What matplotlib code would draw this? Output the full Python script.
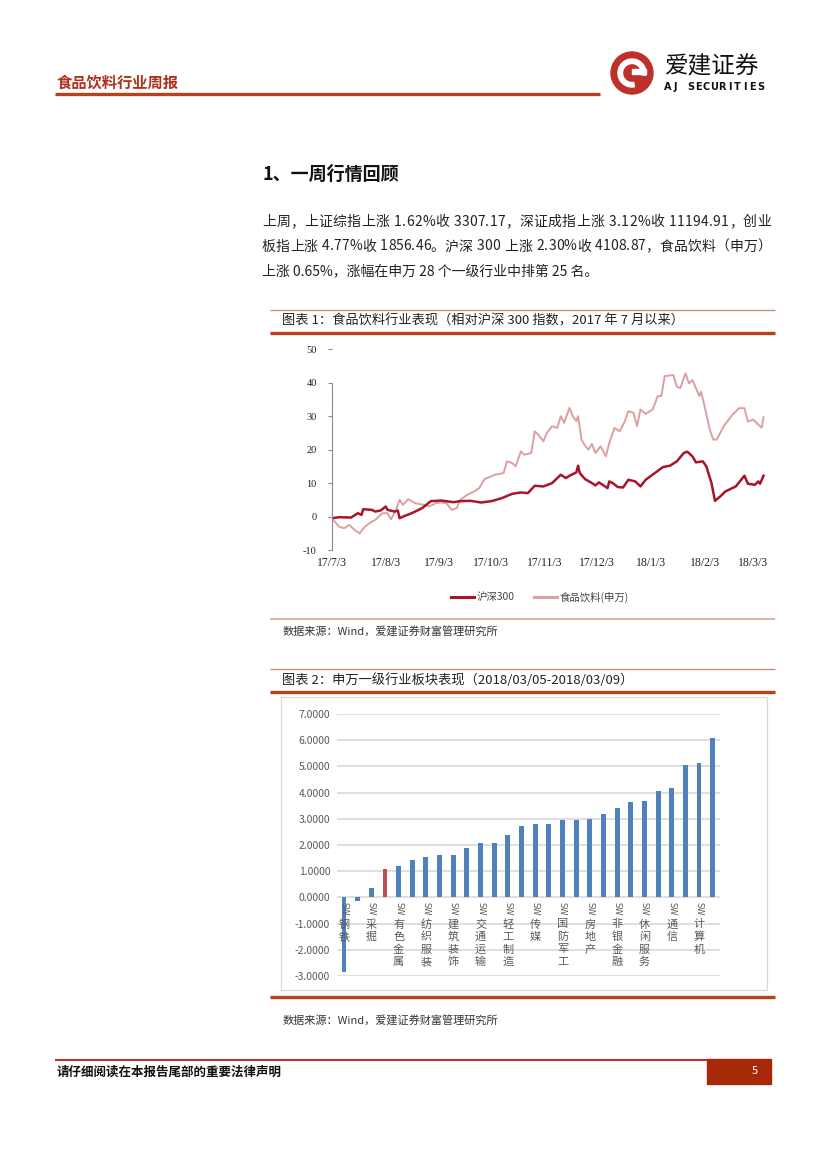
import matplotlib
matplotlib.use("Agg")
import matplotlib.pyplot as plt
import matplotlib.dates as mdates
from matplotlib.patches import Rectangle, Circle, Wedge
from matplotlib.lines import Line2D
from matplotlib.ticker import FuncFormatter
import pandas as pd

plt.rcParams['font.family'] = ['Noto Sans CJK SC', 'DejaVu Sans']
plt.rcParams['axes.unicode_minus'] = False

# ---- data: chart 1 (relative performance since 2017-07, %) ----
hs300_dates = ['2017-07-03', '2017-07-07', '2017-07-14', '2017-07-18', '2017-07-20', '2017-07-21',
               '2017-07-26', '2017-07-28', '2017-07-31', '2017-08-03', '2017-08-04', '2017-08-08',
               '2017-08-10', '2017-08-11', '2017-08-14', '2017-08-18', '2017-08-24', '2017-08-29',
               '2017-09-04', '2017-09-11', '2017-09-15', '2017-09-21', '2017-09-27', '2017-10-03',
               '2017-10-09', '2017-10-15', '2017-10-20', '2017-10-24', '2017-10-28', '2017-11-02',
               '2017-11-07', '2017-11-12', '2017-11-15', '2017-11-17', '2017-11-21', '2017-11-22',
               '2017-11-23', '2017-11-26', '2017-11-30', '2017-12-02', '2017-12-04', '2017-12-07',
               '2017-12-09', '2017-12-10', '2017-12-12', '2017-12-15', '2017-12-18', '2017-12-21',
               '2017-12-25', '2017-12-28', '2017-12-31', '2018-01-04', '2018-01-10', '2018-01-14',
               '2018-01-18', '2018-01-22', '2018-01-24', '2018-01-27', '2018-01-29', '2018-02-02',
               '2018-02-04', '2018-02-07', '2018-02-09', '2018-02-12', '2018-02-15', '2018-02-21',
               '2018-02-26', '2018-02-28', '2018-03-04', '2018-03-06', '2018-03-07', '2018-03-09']
hs300_vals = [-0.5, -0.2, -0.3, 1.0, 0.5, 2.2,
              2.0, 1.5, 1.8, 3.0, 2.0, 1.5,
              1.8, -0.5, 0.2, 1.0, 2.5, 4.6,
              4.8, 4.3, 4.6, 4.7, 4.2, 4.6,
              5.5, 6.8, 7.2, 7.0, 9.2, 9.0,
              10.0, 12.5, 11.5, 12.2, 13.2, 15.2,
              13.0, 11.2, 10.0, 9.3, 10.2, 9.2,
              8.5, 10.5, 10.0, 8.8, 8.7, 11.0,
              10.5, 9.0, 11.0, 12.5, 14.8, 15.2,
              16.5, 19.0, 19.4, 18.0, 16.2, 16.5,
              15.0, 10.0, 4.7, 6.0, 7.5, 9.0,
              12.2, 9.8, 9.5, 10.5, 9.8, 12.2]

food_dates = ['2017-07-03', '2017-07-07', '2017-07-10', '2017-07-13', '2017-07-16', '2017-07-19',
              '2017-07-22', '2017-07-26', '2017-07-28', '2017-08-01', '2017-08-04', '2017-08-06',
              '2017-08-08', '2017-08-09', '2017-08-11', '2017-08-13', '2017-08-16', '2017-08-20',
              '2017-08-25', '2017-08-28', '2017-09-01', '2017-09-04', '2017-09-07', '2017-09-10',
              '2017-09-13', '2017-09-15', '2017-09-19', '2017-09-23', '2017-09-26', '2017-09-29',
              '2017-10-05', '2017-10-10', '2017-10-12', '2017-10-15', '2017-10-17', '2017-10-20',
              '2017-10-22', '2017-10-26', '2017-10-28', '2017-10-30', '2017-11-02', '2017-11-04',
              '2017-11-07', '2017-11-10', '2017-11-12', '2017-11-14', '2017-11-17', '2017-11-19',
              '2017-11-21', '2017-11-22', '2017-11-24', '2017-11-26', '2017-11-28', '2017-11-30',
              '2017-12-02', '2017-12-05', '2017-12-08', '2017-12-10', '2017-12-13', '2017-12-16',
              '2017-12-19', '2017-12-21', '2017-12-24', '2017-12-26', '2017-12-28', '2017-12-31',
              '2018-01-04', '2018-01-07', '2018-01-09', '2018-01-11', '2018-01-16', '2018-01-18',
              '2018-01-20', '2018-01-23', '2018-01-25', '2018-01-27', '2018-01-31', '2018-02-01',
              '2018-02-03', '2018-02-06', '2018-02-08', '2018-02-10', '2018-02-14', '2018-02-19',
              '2018-02-23', '2018-02-26', '2018-02-28', '2018-03-03', '2018-03-07', '2018-03-08',
              '2018-03-09']
food_vals = [-0.5, -3.0, -3.5, -2.5, -4.0, -5.0,
             -3.0, -1.5, -1.0, 1.0, 1.0, -0.8,
             1.0, 2.0, 5.0, 3.5, 5.2, 4.0,
             3.5, 3.0, 4.0, 4.2, 4.0, 2.0,
             2.5, 5.0, 6.5, 7.5, 8.5, 11.2,
             12.5, 13.0, 16.5, 16.0, 15.0, 19.5,
             18.5, 19.0, 25.5, 24.5, 22.5, 25.0,
             27.0, 26.5, 30.0, 28.0, 32.5, 30.0,
             28.5, 30.0, 23.0, 21.2, 20.0, 21.7,
             19.0, 21.0, 18.0, 22.0, 26.5, 25.5,
             28.5, 31.5, 31.0, 27.0, 32.0, 30.7,
             32.0, 36.0, 36.0, 42.0, 42.3, 38.8,
             38.4, 42.8, 39.8, 40.8, 36.0, 37.3,
             33.0, 26.0, 23.0, 23.0, 27.0, 30.4,
             32.4, 32.4, 28.4, 29.0, 27.0, 26.6,
             29.7]

chart1_ticks = ['2017-07-03', '2017-08-03', '2017-09-03', '2017-10-03', '2017-11-03',
                '2017-12-03', '2018-01-03', '2018-02-03', '2018-03-03']
series_names = ['沪深300', '食品饮料(申万)']

# ---- data: chart 2 (SW level-1 sectors, weekly change %) ----
sector_changes = [-2.85, -0.15, 0.35, 1.10, 1.21, 1.44, 1.56, 1.60, 1.63, 1.90,
                  2.06, 2.09, 2.40, 2.71, 2.82, 2.82, 2.94, 2.94, 3.01, 3.17,
                  3.40, 3.63, 3.67, 4.05, 4.16, 5.04, 5.12, 6.08]
shown_labels = ['SW钢铁', 'SW采掘', 'SW有色金属', 'SW纺织服装', 'SW建筑装饰', 'SW交通运输',
                'SW轻工制造', 'SW传媒', 'SW国防军工', 'SW房地产', 'SW非银金融', 'SW休闲服务',
                'SW通信', 'SW计算机']
food_index = 3

W, H = 827, 1169
BRICK = '#B8401C'
HS_RED = '#A8142A'
FOOD_PINK = '#DBA0A2'
BAR_BLUE = '#4F81BD'
BAR_RED = '#C0504D'

fig = plt.figure(figsize=(W / 100, H / 100), dpi=100)

# page layer in pixel coordinates
page = fig.add_axes([0, 0, 1, 1])
page.set_xlim(0, W)
page.set_ylim(H, 0)
page.axis('off')


def px_axes(x0, y0, x1, y1):
    return fig.add_axes([x0 / W, 1 - y1 / H, (x1 - x0) / W, (y1 - y0) / H])


def hline(y, x0, x1, lw, color):
    page.plot([x0, x1], [y, y], color=color, lw=lw, solid_capstyle='butt')


def justified(x0, x1, y, line, **kw):
    # spread the characters of one line evenly between x0 and x1
    renderer = fig.canvas.get_renderer()
    widths = []
    for ch in line:
        t = page.text(0, 0, ch, **kw)
        widths.append(t.get_window_extent(renderer).width if ch != ' ' else 0.0)
        t.remove()
    spaces = [0.3 * 13.9 if ch == ' ' else 0.0 for ch in line]
    total = sum(widths) + sum(spaces)
    gap = (x1 - x0 - total) / (len(line) - 1)
    x = x0
    for ch, w, s in zip(line, widths, spaces):
        if ch != ' ':
            page.text(x, y, ch, va='center', ha='left', **kw)
        x += w + s + gap


# header
page.text(57, 83, '食品饮料行业周报', fontsize=11, fontweight='bold', color='#B0301A', va='center')
hline(93.5, 55, 600, 2.4, BRICK)

# logo
page.add_patch(Circle((632, 73), 21, color='#C0302A'))
page.add_patch(Wedge((632, 73), 14, 80, 370, width=4.5, color='white'))
page.add_patch(Rectangle((632, 69), 14, 4.5, color='white'))
page.text(665, 67, '爱建证券', fontsize=17, color='#111111', va='center', ha='left')
for k, ch in enumerate('AJ SECURITIES'):
    page.text(668 + k * 7.7, 87, ch, fontsize=7, fontweight='bold', color='#111111',
              va='center', ha='center', family='DejaVu Sans')

# section title and paragraph
page.text(262, 174, '1、一周行情回顾', fontsize=13, fontweight='bold', color='#111111', va='center')
para = ['上周，上证综指上涨 1.62%收 3307.17，深证成指上涨 3.12%收 11194.91，创业',
        '板指上涨 4.77%收 1856.46。沪深 300 上涨 2.30%收 4108.87，食品饮料（申万）',
        '上涨 0.65%，涨幅在申万 28 个一级行业中排第 25 名。']
justified(262, 771, 222, para[0], fontsize=10, color='#222222')
justified(262, 771, 246.5, para[1], fontsize=10, color='#222222')
page.text(262, 271, para[2], fontsize=10, color='#222222', va='center')

# chart 1 frame
hline(309.5, 270, 775, 1.0, '#C89080')
page.text(282, 321, '图表 1：食品饮料行业表现（相对沪深 300 指数，2017 年 7 月以来）',
          fontsize=9.5, color='#222222', va='center')
hline(333, 270, 775, 2.4, BRICK)
hline(619, 270, 775, 1.2, '#D8A890')
page.text(283, 632, '数据来源：Wind，爱建证券财富管理研究所', fontsize=8, color='#333333', va='center')

# chart 2 frame
hline(669, 270, 775, 1.0, '#C89080')
page.text(282, 680, '图表 2：申万一级行业板块表现（2018/03/05-2018/03/09）',
          fontsize=9.5, color='#222222', va='center')
hline(692, 270, 775, 2.4, BRICK)
page.add_patch(Rectangle((281, 697), 486, 293, fill=False, edgecolor='#D9D9D9', lw=0.9))
hline(997, 270, 775, 2.4, BRICK)
page.text(283, 1021, '数据来源：Wind，爱建证券财富管理研究所', fontsize=8, color='#333333', va='center')

# footer
hline(1060, 55, 707, 1.2, '#C00000')
page.text(57, 1072, '请仔细阅读在本报告尾部的重要法律声明', fontsize=9, fontweight='bold',
          color='#111111', va='center')
page.add_patch(Rectangle((707, 1059), 64, 25, color='#A8280A'))
page.text(755, 1071, '5', fontsize=8, color='white', va='center', ha='center')

# ---- chart 1 ----
ax1 = px_axes(332, 349.3, 768.7, 550)
hs_x = pd.to_datetime(hs300_dates)
food_x = pd.to_datetime(food_dates)
ax1.plot(food_x, food_vals, color=FOOD_PINK, lw=1.4)
ax1.plot(hs_x, hs300_vals, color=HS_RED, lw=1.8)
ax1.set_xlim(pd.Timestamp('2017-07-03'), pd.Timestamp('2018-03-12'))
ax1.set_ylim(-10, 50)
ax1.set_yticks(range(-10, 51, 10))
ax1.set_xticks(pd.to_datetime(chart1_ticks))
ax1.xaxis.set_major_formatter(FuncFormatter(
    lambda v, p: '{}/{}/{}'.format(mdates.num2date(v).year % 100, mdates.num2date(v).month,
                                   mdates.num2date(v).day)))
for s in ['top', 'right', 'bottom']:
    ax1.spines[s].set_visible(False)
ax1.spines['left'].set_color('#8C8C8C')
ax1.spines['left'].set_bounds(-10, 40)
ax1.tick_params(axis='y', length=3, color='#8C8C8C', pad=8, labelsize=7.5, labelcolor='#222222')
ax1.tick_params(axis='x', length=0, pad=5, labelsize=8.5, labelcolor='#222222')
for lab in ax1.get_xticklabels() + ax1.get_yticklabels():
    lab.set_family(['Liberation Serif', 'DejaVu Serif'])
ax1.patch.set_alpha(0)

handles = [Line2D([], [], color=HS_RED, lw=2.2), Line2D([], [], color=FOOD_PINK, lw=2.2)]
fig.legend(handles, series_names, loc='center', bbox_to_anchor=(540 / W, 1 - 597 / H), ncol=2,
           frameon=False, fontsize=7.5, handlelength=2.2, columnspacing=1.8, handletextpad=0.3,
           labelcolor='#444444')

# ---- chart 2 ----
ax2 = px_axes(337.2, 714, 719.5, 976)
xs = list(range(len(sector_changes)))
colors = [BAR_RED if i == food_index else BAR_BLUE for i in xs]
ax2.bar(xs, sector_changes, width=0.36, color=colors, zorder=3)
ax2.set_xlim(-0.5, len(sector_changes) - 0.5)
ax2.set_ylim(-3, 7)
ax2.set_yticks(range(-3, 8))
ax2.yaxis.set_major_formatter(FuncFormatter(lambda v, p: '{:.4f}'.format(v)))
ax2.set_xticks([])
ax2.grid(axis='y', color='#D9D9D9', lw=1.2, zorder=0)
ax2.set_axisbelow(True)
for s in ax2.spines.values():
    s.set_visible(False)
ax2.tick_params(axis='y', length=0, pad=5, labelsize=7.5, labelcolor='#595959')
ax2.patch.set_alpha(0)

for k, name in enumerate(shown_labels):
    i = 2 * k
    ax2.annotate(name[:2], xy=(i, 0), xytext=(0, -8.5), textcoords='offset points',
                 ha='center', va='center', rotation=-90, fontsize=6, color='#595959',
                 annotation_clip=False, family='DejaVu Sans')
    for j, ch in enumerate(name[2:]):
        ax2.annotate(ch, xy=(i, 0), xytext=(0, -19.5 - j * 9.0), textcoords='offset points',
                     ha='center', va='center', fontsize=8, color='#595959',
                     annotation_clip=False)

fig.savefig('out.png', dpi=100)
